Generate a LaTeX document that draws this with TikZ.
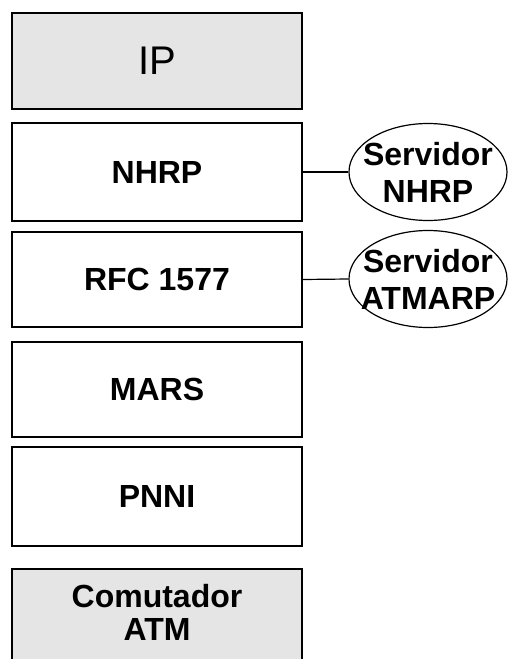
\documentclass[tikz,border=0pt]{standalone}
\usepackage{fontspec}
\setmainfont{Liberation Sans}
\usepackage{xcolor}
\usetikzlibrary{shapes.geometric}
\definecolor{boxgray}{HTML}{E5E5E5}

\begin{document}
\begin{tikzpicture}[x=1pt, y=-1pt,
    stack/.style={draw, line width=1.4pt, minimum width=290pt, minimum height=#1,
                  inner sep=0pt, font=\fontsize{32}{34}\selectfont\bfseries, align=center},
    server/.style={draw, line width=1.2pt, ellipse, minimum width=158pt, minimum height=97pt,
                   inner sep=0pt},
    servlabel/.style={font=\fontsize{32}{37}\selectfont\bfseries, align=center, inner sep=0pt},
    link/.style={line width=1.2pt}
]
\useasboundingbox (0,0) rectangle (508,659);

%% Protocol stack
\node[stack=96pt, fill=boxgray, font=\fontsize{40}{42}\selectfont] (ip) at (157,61) {IP};
\node[stack=98pt] (nhrp) at (157,172) {NHRP};
\node[stack=95pt] (rfc) at (157,279.5) {RFC 1577};
\node[stack=95pt] (mars) at (157,389.5) {MARS};
\node[stack=99pt] (pnni) at (157,496.5) {PNNI};
\node[stack=110pt, fill=boxgray,
      label={[servlabel, font=\fontsize{32}{33}\selectfont\bfseries, yshift=12pt]center:Comutador\\ATM}]
      (atm) at (157,624) {};

%% Servers
\node[server, label={[servlabel]center:Servidor\\NHRP}] (srvnhrp) at (428,172) {};
\node[server, label={[servlabel]center:Servidor\\ATMARP}] (srvarp) at (428,279) {};

\draw[link] (nhrp.east) -- (srvnhrp.west);
\draw[link] (rfc.east) -- (srvarp.west);

\end{tikzpicture}
\end{document}
